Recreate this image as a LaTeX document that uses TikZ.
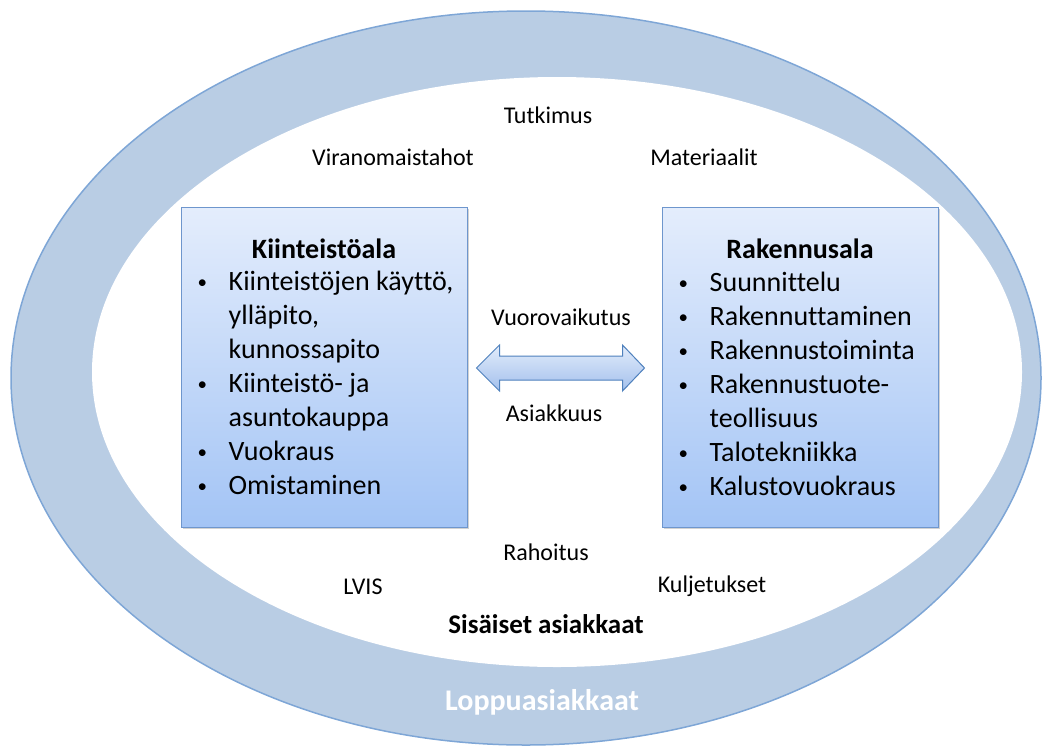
\documentclass[tikz,border=0pt]{standalone}
\usepackage{fontspec}
\setmainfont{Carlito}[Ligatures=NoCommon]
\usetikzlibrary{positioning,calc,shadows}
\definecolor{ringcol}{RGB}{185,205,228}
\definecolor{ringline}{RGB}{126,166,214}
\definecolor{boxtop}{RGB}{228,237,252}
\definecolor{boxbot}{RGB}{163,196,245}
\definecolor{boxline}{RGB}{110,150,205}
\definecolor{arrtop}{RGB}{226,236,251}
\definecolor{arrbot}{RGB}{163,192,236}
\definecolor{arrline}{RGB}{79,129,189}
\tikzset{
  fieldbox/.style={rectangle, draw=boxline, line width=1pt,
                   top color=boxtop, bottom color=boxbot,
                   minimum width=286pt, minimum height=320pt,
                   drop shadow={shadow xshift=2pt, shadow yshift=-2pt, opacity=0.35}},
  fieldtitle/.style={font=\fontsize{28}{34}\selectfont\bfseries, inner sep=0pt, anchor=base},
  fieldlist/.style={font=\fontsize{28}{34}\selectfont, inner sep=0pt, anchor=base west, align=left},
  lbl/.style={font=\fontsize{24}{29}\selectfont, inner sep=0pt, anchor=base},
  linkarr/.style={draw=arrline, line width=1pt, top color=arrtop, bottom color=arrbot, line join=miter},
}
\newcommand{\bul}{\hspace*{2pt}\raisebox{2pt}{\fontsize{19}{19}\selectfont\textbullet}}

\begin{document}
\begin{tikzpicture}[x=1pt, y=-1pt]
    \useasboundingbox (0,0) rectangle (1043,747);
    % rings
    \fill[ringcol, draw=ringline, line width=1.5pt] (526,378) ellipse [x radius=515, y radius=367];
    \fill[white] (557,372) ellipse [x radius=465, y radius=295];

    % the two fields
    \node[fieldbox] (kbox) at (324,367) {};
    \node[fieldbox, minimum width=276pt] (rbox) at (800,367) {};
    \node[fieldtitle] (ktitle) at ($(kbox.north)+(0,52)$) {Kiinteistöala};
    \node[fieldtitle] (rtitle) at ($(rbox.north)+(0,52)$) {Rakennusala};
    \node[fieldlist] (klist) at ($(kbox.north west)+(15,84)$)
      {\begin{tabular}[t]{@{}p{33pt}@{}l@{}}
        \bul & Kiinteistöjen käyttö,\\
             & ylläpito,\\
             & kunnossapito\\
        \bul & Kiinteistö- ja\\
             & asuntokauppa\\
        \bul & Vuokraus\\
        \bul & Omistaminen
       \end{tabular}};
    \node[fieldlist] (rlist) at ($(rbox.north west)+(15,85)$)
      {\begin{tabular}[t]{@{}p{33pt}@{}l@{}}
        \bul & Suunnittelu\\
        \bul & Rakennuttaminen\\
        \bul & Rakennustoiminta\\
        \bul & Rakennustuote-\\
             & teollisuus\\
        \bul & Talotekniikka\\
        \bul & Kalustovuokraus
       \end{tabular}};

    % double arrow between the fields
    \coordinate (aL) at ($(kbox.east)+(9,1)$);
    \coordinate (aR) at ($(rbox.west)+(-17,1)$);
    \draw[linkarr] (aL) -- ++(23,-23) -- ++(0,11) -- ($(aR)+(-22,-12)$) -- ++(0,-11)
      -- (aR) -- ++(-22,23) -- ++(0,-11) -- ($(aL)+(23,12)$) -- ++(0,11) -- cycle;

    % labels
    \node[lbl] (tutk) at (548,123) {Tutkimus};
    \node[lbl] (viran) at (393,165) {Viranomaistahot};
    \node[lbl] (mater) at (704,165) {Materiaalit};
    \node[lbl] (vuoro) at (561,325) {Vuorovaikutus};
    \node[lbl] (asiak) at (554,421) {Asiakkuus};
    \node[lbl] (rahoi) at (546,560) {Rahoitus};
    \node[lbl] (lvis) at (363,594) {LVIS};
    \node[lbl] (kulj) at (712,592) {Kuljetukset};
    \node[lbl, font=\fontsize{27}{32}\selectfont\bfseries] (sisa) at (546,633) {Sisäiset asiakkaat};
    \node[lbl, font=\fontsize{30}{36}\selectfont\bfseries, text=white] (loppu) at (542,710) {Loppuasiakkaat};
  \end{tikzpicture}
\end{document}
